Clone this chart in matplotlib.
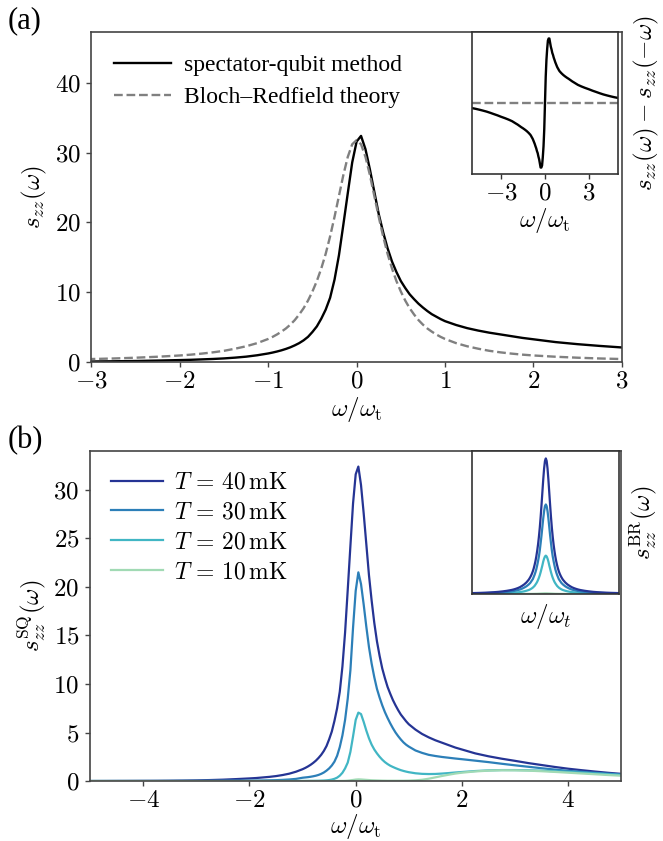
import numpy as np
import matplotlib
matplotlib.use("Agg")
import matplotlib.pyplot as plt
from matplotlib.ticker import FuncFormatter, MultipleLocator

plt.rcParams['mathtext.fontset'] = 'cm'
plt.rcParams['font.family'] = ['Liberation Serif', 'DejaVu Serif']

# ---------------- data ----------------
# sampling grid of omega/omega_t (symmetric about 0)
omega = np.round(np.concatenate([
    np.linspace(-5, -2, 13), np.linspace(-1.875, -1.125, 7),
    np.linspace(-1, 1, 41),
    np.linspace(1.125, 1.875, 7), np.linspace(2, 5, 13)]), 4)

# spectator-qubit spectra s_zz^SQ
s_sq_40 = [0.0, 0.005, 0.01, 0.015, 0.02, 0.025, 0.035, 0.05, 0.07, 0.1, 0.14, 0.2, 0.27,
           0.31, 0.37, 0.43, 0.51, 0.62, 0.76, 0.96,
           1.22, 1.35, 1.5, 1.67, 1.87, 2.1, 2.38, 2.7, 3.1, 3.6, 4.3, 5.1, 6.2, 7.5, 9.2,
           11.8, 15.3, 19.7, 24.2, 28.6,
           31.6,
           32.4, 30.5, 27.6, 24.4, 21.2, 18.6, 16.3, 14.4, 12.9, 11.6, 10.6, 9.7, 9.0, 8.35,
           7.8, 7.3, 6.85, 6.5, 6.15, 5.85,
           5.3, 4.85, 4.5, 4.2, 3.95, 3.7, 3.45,
           3.25, 2.85, 2.55, 2.3, 2.08, 1.85, 1.65, 1.45, 1.27, 1.12, 0.98, 0.85, 0.74]
s_sq_30 = [0.0, 0.0, 0.0, 0.0, 0.0, 0.0, 0.005, 0.01, 0.01, 0.015, 0.02, 0.03, 0.04,
           0.05, 0.06, 0.075, 0.09, 0.12, 0.16, 0.22,
           0.34, 0.37, 0.4, 0.44, 0.49, 0.55, 0.63, 0.74, 0.88, 1.07, 1.3, 1.6, 2.0, 2.6, 3.5,
           4.7, 6.3, 8.5, 11.4, 15.8,
           19.6,
           21.5, 20.3, 18.2, 15.9, 13.8, 12.1, 10.7, 9.5, 8.6, 7.8, 7.1, 6.5, 5.95, 5.45,
           5.0, 4.62, 4.28, 3.98, 3.74, 3.55,
           3.15, 2.9, 2.7, 2.58, 2.48, 2.4, 2.32,
           2.25, 2.1, 1.95, 1.78, 1.62, 1.47, 1.32, 1.18, 1.05, 0.95, 0.85, 0.76, 0.68]
s_sq_20 = [0.0, 0.0, 0.0, 0.0, 0.0, 0.0, 0.0, 0.0, 0.0, 0.0, 0.0, 0.0, 0.0,
           0.0, 0.0, 0.0, 0.0, 0.0, 0.0, 0.0,
           0.01, 0.01, 0.015, 0.02, 0.02, 0.025, 0.03, 0.04, 0.05, 0.07, 0.1, 0.15, 0.23, 0.35,
           0.55, 0.85, 1.3, 1.9, 3.0, 4.6,
           6.3,
           7.05, 6.9, 6.1, 5.2, 4.4, 3.75, 3.25, 2.85, 2.5, 2.2, 1.95, 1.75, 1.58, 1.45,
           1.33, 1.22, 1.12, 1.04, 0.97, 0.91,
           0.8, 0.74, 0.72, 0.73, 0.77, 0.82, 0.88,
           0.93, 1.03, 1.1, 1.13, 1.13, 1.11, 1.07, 1.01, 0.94, 0.86, 0.78, 0.7, 0.62]
s_sq_10 = [0.0, 0.0, 0.0, 0.0, 0.0, 0.0, 0.0, 0.0, 0.0, 0.0, 0.0, 0.0, 0.0,
           0.0, 0.0, 0.0, 0.0, 0.0, 0.0, 0.0,
           0.0, 0.0, 0.0, 0.0, 0.0, 0.0, 0.0, 0.0, 0.0, 0.0, 0.0, 0.0, 0.0, 0.005, 0.01,
           0.015, 0.02, 0.04, 0.07, 0.11,
           0.15,
           0.17, 0.16, 0.14, 0.12, 0.1, 0.08, 0.07, 0.06, 0.05, 0.04, 0.035, 0.03, 0.03, 0.03,
           0.03, 0.03, 0.03, 0.03, 0.035, 0.04,
           0.07, 0.13, 0.24, 0.38, 0.52, 0.65, 0.77,
           0.86, 0.99, 1.07, 1.11, 1.1, 1.07, 1.01, 0.94, 0.86, 0.78, 0.7, 0.62, 0.55]

# Bloch-Redfield spectra s_zz^BR, read on the non-negative half of the grid
# (they are symmetric in omega, see the flat dashed line of inset (a))
s_br_40_half = [31.8, 31.2, 29.4, 26.8, 23.8, 20.8, 18.0, 15.5, 13.4, 11.6, 10.1, 8.8, 7.7,
                6.8, 6.0, 5.35, 4.8, 4.35, 3.95, 3.6, 3.3,
                2.7, 2.25, 1.9, 1.6, 1.38, 1.2, 1.05,
                0.93, 0.75, 0.61, 0.5, 0.42, 0.36, 0.31, 0.27, 0.24, 0.21, 0.19, 0.17, 0.15]
s_br_30_half = [21.0, 20.6, 19.4, 17.7, 15.7, 13.7, 11.9, 10.2, 8.8, 7.7, 6.7, 5.8, 5.1,
                4.5, 4.0, 3.5, 3.2, 2.9, 2.6, 2.4, 2.2,
                1.8, 1.5, 1.25, 1.05, 0.91, 0.79, 0.69,
                0.61, 0.5, 0.4, 0.33, 0.28, 0.24, 0.2, 0.18, 0.16, 0.14, 0.13, 0.11, 0.1]
s_br_20_half = [9.0, 8.8, 8.3, 7.6, 6.7, 5.9, 5.1, 4.4, 3.8, 3.3, 2.85, 2.5, 2.2,
                1.9, 1.7, 1.5, 1.35, 1.22, 1.1, 1.0, 0.92,
                0.76, 0.63, 0.53, 0.45, 0.39, 0.34, 0.29,
                0.26, 0.21, 0.17, 0.14, 0.12, 0.1, 0.09, 0.08, 0.07, 0.06, 0.055, 0.05, 0.045]
s_br_10_half = [0.15, 0.15, 0.14, 0.13, 0.12, 0.11, 0.1, 0.09, 0.08, 0.07, 0.06, 0.05, 0.05,
                0.04, 0.04, 0.03, 0.03, 0.03, 0.02, 0.02, 0.02,
                0.02, 0.02, 0.01, 0.01, 0.01, 0.01, 0.01,
                0.01, 0.01, 0.01, 0.01, 0.01, 0.01, 0.01, 0.01, 0.01, 0.01, 0.01, 0.01, 0.01]

temps = ["40", "30", "20", "10"]
colors = ["#253494", "#2c7fb8", "#41b6c4", "#a1dab4"]

w = omega
def full(half):
    h = np.array(half)
    return np.concatenate([h[:0:-1], h])

sq = [np.array(s_sq_40), np.array(s_sq_30), np.array(s_sq_20), np.array(s_sq_10)]
br = [full(s_br_40_half), full(s_br_30_half), full(s_br_20_half), full(s_br_10_half)]

# antisymmetric parts (grid is symmetric, so reversing gives s(-omega))
d_sq = sq[0] - sq[0][::-1]
d_br = br[0] - br[0][::-1]

FS = 18
mfmt = FuncFormatter(lambda v, p: f"${v:g}$")
SPC = '#444444'

def style(ax, spc=SPC):
    for s in ax.spines.values():
        s.set_color(spc)
        s.set_linewidth(1.2)
    ax.tick_params(direction='out', length=3.8, width=1.0, color=spc, labelsize=FS,
                   top=False, right=False, pad=2.5)
    ax.tick_params(axis='y', pad=4)
    ax.xaxis.set_major_formatter(mfmt)
    ax.yaxis.set_major_formatter(mfmt)

fig = plt.figure(figsize=(6.63, 8.41), dpi=100)

# ---------------- panel (a) ----------------
ax_a = fig.add_axes([0.1379, 0.5696, 0.8, 0.3924])
ax_a.plot(w, sq[0], color='black', lw=1.7, label='spectator-qubit method')
ax_a.plot(w, br[0], color='gray', lw=1.7, ls='--', label='Bloch–Redfield theory')
ax_a.set_xlim(-3, 3)
ax_a.set_ylim(0, 47.3)
ax_a.xaxis.set_major_locator(MultipleLocator(1))
ax_a.yaxis.set_major_locator(MultipleLocator(10))
style(ax_a)
ax_a.set_xlabel(r'$\omega/\omega_{\mathrm{t}}$', fontsize=FS, labelpad=1.5)
ax_a.set_ylabel(r'$s_{zz}(\omega)$', fontsize=FS, labelpad=4)
ax_a.legend(loc='upper left', frameon=False, fontsize=17, handlelength=2.4,
            handletextpad=0.55, bbox_to_anchor=(0.0, 1.0), borderaxespad=0.55,
            labelspacing=0.45)
fig.text(0.012, 0.993, '(a)', fontsize=22, va='top', ha='left')

ins_a = fig.add_axes([0.7119, 0.7931, 0.2202, 0.1688])
ins_a.plot(w, d_sq, color='black', lw=1.7)
ins_a.plot(w, d_br, color='gray', lw=1.7, ls='--')
ins_a.set_xlim(-5, 5)
ins_a.xaxis.set_major_locator(MultipleLocator(3))
style(ins_a, '#333333')
ins_a.set_yticks([])
ins_a.yaxis.set_label_position('right')
ins_a.set_ylabel(r'$s_{zz}(\omega) - s_{zz}(-\omega)$', fontsize=FS, labelpad=10)
ins_a.set_xlabel(r'$\omega/\omega_{\mathrm{t}}$', fontsize=FS, labelpad=1)

# ---------------- panel (b) ----------------
ax_b = fig.add_axes([0.136, 0.0713, 0.801, 0.3924])
for t, c, y in zip(temps, colors, sq):
    ax_b.plot(w, y, color=c, lw=1.6, label=rf'$T\,=\,{t}\,\mathrm{{mK}}$')
ax_b.set_xlim(-5, 5)
ax_b.set_ylim(0, 34)
ax_b.xaxis.set_major_locator(MultipleLocator(2))
ax_b.yaxis.set_major_locator(MultipleLocator(5))
style(ax_b)
ax_b.set_xlabel(r'$\omega/\omega_{\mathrm{t}}$', fontsize=FS, labelpad=0)
ax_b.set_ylabel(r'$s^{\mathrm{SQ}}_{zz}(\omega)$', fontsize=FS, labelpad=4)
ax_b.legend(loc='upper left', frameon=False, fontsize=17, handlelength=2.2,
            handletextpad=0.45, bbox_to_anchor=(0.0, 1.0), borderaxespad=0.5,
            labelspacing=0.35)
fig.text(0.012, 0.493, '(b)', fontsize=22, va='top', ha='left')

ins_b = fig.add_axes([0.7124, 0.2937, 0.2217, 0.1704])
for c, y in zip(colors[::-1], br[::-1]):
    ins_b.plot(w, y, color=c, lw=1.6)
ins_b.set_xlim(-4.25, 4.25)
ins_b.set_ylim(0, 31.8 * 1.057)
style(ins_b, '#333333')
ins_b.set_xticks([])
ins_b.set_yticks([])
ins_b.yaxis.set_label_position('right')
ins_b.set_ylabel(r'$s^{\mathrm{BR}}_{zz}(\omega)$', fontsize=FS, labelpad=6)
ins_b.set_xlabel(r'$\omega/\omega_t$', fontsize=FS, labelpad=6)

fig.savefig('out.png', dpi=100)
